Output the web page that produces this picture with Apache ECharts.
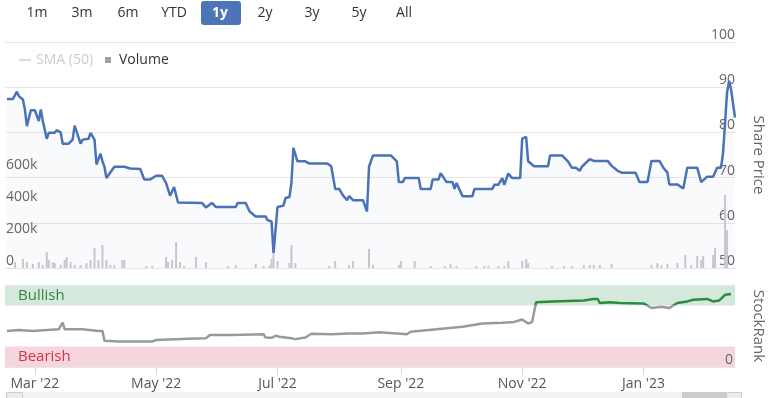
<!DOCTYPE html>
<html>
<head>
<meta charset="utf-8">
<script src="https://cdn.jsdelivr.net/npm/echarts@6/dist/echarts.min.js"></script>
<style>
  html, body { margin: 0; padding: 0; background: #fff; }
  #chart { width: 774px; height: 398px; }
</style>
</head>
<body>
<div id="chart"></div>
<script>
// 股价 (拐点)
var priceDates = ['2022-02-15','2022-02-18','2022-02-20','2022-02-21','2022-02-23','2022-02-24','2022-02-25','2022-02-27','2022-03-01','2022-03-03','2022-03-04','2022-03-05','2022-03-07','2022-03-08','2022-03-11','2022-03-12','2022-03-14','2022-03-15','2022-03-18','2022-03-20','2022-03-21','2022-03-22','2022-03-24','2022-03-25','2022-03-28','2022-03-29','2022-03-31','2022-04-01','2022-04-03','2022-04-04','2022-04-05','2022-04-06','2022-04-08','2022-04-10','2022-04-15','2022-04-18','2022-04-23','2022-04-25','2022-04-28','2022-05-01','2022-05-04','2022-05-06','2022-05-07','2022-05-08','2022-05-10','2022-05-12','2022-05-13','2022-05-24','2022-05-26','2022-05-27','2022-05-29','2022-05-31','2022-06-10','2022-06-11','2022-06-15','2022-06-17','2022-06-18','2022-06-20','2022-06-25','2022-06-26','2022-06-28','2022-06-29','2022-07-01','2022-07-02','2022-07-04','2022-07-05','2022-07-07','2022-07-08','2022-07-09','2022-07-11','2022-07-15','2022-07-17','2022-07-26','2022-07-28','2022-07-30','2022-08-01','2022-08-03','2022-08-05','2022-08-06','2022-08-08','2022-08-13','2022-08-15','2022-08-16','2022-08-18','2022-08-27','2022-08-30','2022-08-31','2022-09-02','2022-09-03','2022-09-10','2022-09-11','2022-09-16','2022-09-17','2022-09-20','2022-09-21','2022-09-22','2022-09-24','2022-09-27','2022-09-28','2022-09-29','2022-10-02','2022-10-07','2022-10-08','2022-10-17','2022-10-18','2022-10-20','2022-10-22','2022-10-23','2022-10-25','2022-10-27','2022-10-31','2022-11-01','2022-11-03','2022-11-04','2022-11-05','2022-11-07','2022-11-14','2022-11-15','2022-11-21','2022-11-24','2022-11-26','2022-11-28','2022-11-30','2022-12-01','2022-12-05','2022-12-07','2022-12-14','2022-12-16','2022-12-17','2022-12-19','2022-12-21','2022-12-28','2022-12-30','2023-01-03','2023-01-05','2023-01-09','2023-01-11','2023-01-13','2023-01-14','2023-01-18','2023-01-21','2023-01-23','2023-01-28','2023-01-30','2023-01-31','2023-02-02','2023-02-05','2023-02-07','2023-02-09','2023-02-10','2023-02-12','2023-02-13','2023-02-14','2023-02-16'];
var priceValues = [87.4,87.4,89.0,88.0,87.3,85.1,81.4,84.9,84.9,82.5,85.1,82.5,78.6,79.9,79.9,80.5,80.0,77.5,77.5,78.4,81.5,81.4,77.5,78.4,78.6,79.9,78.4,72.9,75.3,73.6,72.4,69.9,71.2,72.4,72.4,72.0,71.9,69.6,69.6,70.4,70.4,68.8,68.8,66.0,67.9,64.5,64.4,64.4,63.4,63.4,64.4,63.5,63.5,64.4,64.4,62.5,62.3,61.4,61.4,60.6,60.3,53.3,63.5,63.8,63.8,65.5,65.7,68.8,76.6,73.6,73.6,73.1,73.1,72.5,67.5,67.5,66.0,65.0,65.9,65.0,65.0,62.5,72.4,74.9,74.9,73.6,69.0,69.0,69.9,69.9,67.5,67.5,69.6,69.6,71.0,71.0,69.0,69.0,67.5,68.8,65.9,65.9,67.5,67.5,68.4,68.4,69.9,68.4,70.9,69.9,69.9,78.6,79.0,73.6,73.4,72.5,72.5,74.9,74.9,73.6,72.2,72.2,71.5,72.4,74.1,73.7,73.7,72.6,72.4,71.5,71.1,71.1,69.0,69.0,73.7,73.7,72.2,71.1,68.5,68.5,67.6,72.2,72.2,69.0,69.0,70.2,70.2,72.2,72.2,75.5,88.8,91.4,89.6,83.3];

// 成交量
var volumeDates = ['2022-02-19','2022-02-23','2022-02-25','2022-02-28','2022-03-03','2022-03-05','2022-03-07','2022-03-08','2022-03-10','2022-03-11','2022-03-14','2022-03-16','2022-03-17','2022-03-19','2022-03-21','2022-03-24','2022-03-27','2022-03-29','2022-03-31','2022-04-02','2022-04-04','2022-04-06','2022-04-08','2022-04-10','2022-04-14','2022-04-15','2022-04-26','2022-04-29','2022-05-06','2022-05-07','2022-05-09','2022-05-11','2022-05-13','2022-05-15','2022-05-21','2022-05-26','2022-06-06','2022-06-10','2022-06-20','2022-06-24','2022-06-27','2022-06-28','2022-06-29','2022-07-01','2022-07-07','2022-07-08','2022-07-10','2022-07-27','2022-07-30','2022-08-06','2022-08-08','2022-08-16','2022-08-18','2022-08-31','2022-09-01','2022-09-08','2022-09-16','2022-09-23','2022-09-26','2022-09-29','2022-10-09','2022-10-13','2022-10-15','2022-10-20','2022-10-23','2022-10-25','2022-11-01','2022-11-03','2022-11-04','2022-11-16','2022-11-22','2022-11-26','2022-12-02','2022-12-05','2022-12-07','2022-12-10','2022-12-16','2023-01-05','2023-01-08','2023-01-10','2023-01-13','2023-01-18','2023-01-22','2023-01-25','2023-01-28','2023-01-30','2023-01-31','2023-02-05','2023-02-06','2023-02-11','2023-02-12'];
var volumeValues = [37000,56000,37000,25000,37000,19000,100000,50000,37000,31000,19000,50000,69000,37000,19000,19000,31000,50000,125000,50000,144000,50000,19000,19000,50000,50000,12000,12000,69000,37000,50000,162000,37000,12000,69000,37000,12000,19000,25000,12000,19000,56000,87000,44000,31000,144000,31000,12000,44000,19000,44000,119000,19000,19000,44000,44000,12000,12000,25000,12000,12000,12000,12000,12000,12000,44000,44000,56000,31000,12000,12000,12000,19000,19000,19000,19000,25000,19000,31000,19000,25000,31000,81000,19000,75000,50000,75000,81000,125000,456000,237000];

// StockRank
var rankDates = ['2022-02-15','2022-02-21','2022-02-28','2022-03-07','2022-03-13','2022-03-15','2022-03-16','2022-03-25','2022-04-02','2022-04-04','2022-04-05','2022-04-12','2022-04-29','2022-05-01','2022-05-17','2022-05-26','2022-05-28','2022-06-08','2022-06-24','2022-06-25','2022-06-28','2022-06-30','2022-07-02','2022-07-08','2022-07-10','2022-07-15','2022-07-18','2022-07-28','2022-08-06','2022-08-13','2022-08-21','2022-08-30','2022-09-04','2022-09-06','2022-09-15','2022-09-23','2022-10-02','2022-10-12','2022-10-22','2022-10-28','2022-11-01','2022-11-04','2022-11-06','2022-11-08','2022-11-16','2022-11-24','2022-12-02','2022-12-07','2022-12-09','2022-12-10','2022-12-15','2022-12-20','2023-01-01','2023-01-03','2023-01-05','2023-01-10','2023-01-14','2023-01-18','2023-01-23','2023-01-26','2023-02-02','2023-02-05','2023-02-08','2023-02-09','2023-02-11','2023-02-14'];
var rankValues = [44,45,44,45,46,54,46,46,44,44,32,31,31,33,34.5,35,39,39,40,36,35.6,38,37,35,34,36,40.5,40,41,41,42.5,41,40,43,45,47,49,53,54,55,58,53,55,79,80,80.5,81,83,83,78,79,78,77.5,75,72,73.5,72,78,80,82,83,80,81,82,88,89];

// 坐标轴刻度
var xTickDates = ['2022-03-01','2022-05-01','2022-07-01','2022-09-01','2022-11-01','2023-01-01'];
var xTickLabels = ["Mar '22","May '22","Jul '22","Sep '22","Nov '22","Jan '23"];
var volumeTickLabels = ['0','200k','400k','600k'];
var rangeButtons = ['1m','3m','6m','YTD','1y','2y','3y','5y','All'];

var FONT = '"Open Sans", "Noto Sans", sans-serif';

function ts(d) {
    return Date.parse(d + 'T00:00:00Z');
}
function zip(dates, values) {
    return dates.map(function (d, i) { return [ts(d), values[i]]; });
}

var chart = echarts.init(document.getElementById('chart'));

// 顶部按钮
var buttonX = [37, 82, 128, 174, 220, 265, 312, 359, 404];
var buttons = [];
rangeButtons.forEach(function (name, i) {
    var active = name === '1y';
    if (active) {
        buttons.push({
            type: 'rect', shape: { x: buttonX[i] - 19, y: 1, width: 40, height: 24, r: 3 },
            style: { fill: '#4d74b7' }
        });
    }
    buttons.push({
        type: 'text', x: buttonX[i], y: 13,
        style: {
            text: name, fill: active ? '#fff' : '#333', font: (active ? 'bold ' : '') + '14px ' + FONT,
            textAlign: 'center', textVerticalAlign: 'middle'
        }
    });
});
// 底部滚动条
buttons.push(
    { type: 'rect', shape: { x: 6, y: 392, width: 736, height: 8 }, style: { fill: '#f2f2f2' } },
    { type: 'rect', shape: { x: 6.5, y: 392.5, width: 16, height: 8 }, style: { fill: '#ebebeb', stroke: '#ccc' } },
    { type: 'rect', shape: { x: 682, y: 392, width: 44, height: 8 }, style: { fill: '#cccccc' } },
    { type: 'rect', shape: { x: 726.5, y: 392.5, width: 15, height: 8 }, style: { fill: '#ebebeb', stroke: '#ccc' } }
);

var xMin = ts('2022-02-14');
var xMax = ts('2023-02-16');
var xTicks = xTickDates.map(ts);

// StockRank 面板: 75 以上为绿色
var rankTop = 285, rankHeight = 82, bullishLevel = 75;
var cut = 1 - bullishLevel / 100;
var rankColor = {
    type: 'linear', x: 0, y: rankTop, x2: 0, y2: rankTop + rankHeight, global: true,
    colorStops: [
        { offset: 0, color: '#2b8c3b' }, { offset: cut, color: '#2b8c3b' },
        { offset: cut, color: '#999999' }, { offset: 1, color: '#999999' }
    ]
};

var option = {
    animation: false,
    textStyle: { fontFamily: FONT },
    graphic: buttons,
    legend: {
        left: 14, top: 48,
        itemWidth: 12, itemHeight: 6, itemGap: 12,
        textStyle: { fontSize: 14, color: '#333' },
        inactiveColor: '#cccccc',
        symbolKeepAspect: true,
        data: [
            { name: 'SMA (50)', icon: 'path://M0,0H12V1.4H0Z' },
            { name: 'Volume', icon: 'path://M0,0H10V10H0Z', itemStyle: { color: '#a0a0a0' } }
        ],
        selected: { 'SMA (50)': false }
    },
    grid: [
        { left: 5, right: 32, top: 42, height: 226 },
        { left: 5, right: 32, top: rankTop, height: rankHeight }
    ],
    xAxis: [
        { type: 'value', gridIndex: 0, min: xMin, max: xMax, show: false },
        {
            type: 'value', gridIndex: 1, min: xMin, max: xMax,
            axisLine: { lineStyle: { color: '#e6e6e6' } },
            axisTick: { show: true, length: 8, customValues: xTicks, lineStyle: { color: '#d8d8d8' } },
            axisLabel: {
                customValues: xTicks, color: '#555', fontSize: 14, margin: 10,
                formatter: function (v) { return xTickLabels[xTicks.indexOf(v)]; }
            },
            splitLine: { show: false }
        }
    ],
    yAxis: [
        {
            type: 'value', gridIndex: 0, position: 'right', min: 50, max: 100, interval: 10,
            name: 'Share Price', nameLocation: 'middle', nameRotate: -90, nameGap: 16,
            nameTextStyle: { color: '#666', fontSize: 15 },
            axisLine: { show: false }, axisTick: { show: false },
            axisLabel: { inside: true, margin: 0, color: '#666', fontSize: 14, verticalAlign: 'bottom' },
            splitLine: { lineStyle: { color: '#e6e6e6' } }
        },
        {
            type: 'value', gridIndex: 0, position: 'left', min: 0, max: 1412500, interval: 200000,
            axisLine: { show: false }, axisTick: { show: false }, splitLine: { show: false },
            axisLabel: {
                inside: true, margin: 1, color: '#666', fontSize: 14, verticalAlign: 'bottom', showMaxLabel: false,
                formatter: function (v) { return volumeTickLabels[v / 200000] || ''; }
            }
        },
        {
            type: 'value', gridIndex: 1, position: 'right', min: 0, max: 100, interval: 100, z: 5,
            name: 'StockRank', nameLocation: 'middle', nameRotate: -90, nameGap: 16,
            nameTextStyle: { color: '#666', fontSize: 15 },
            axisLine: { show: false }, axisTick: { show: false },
            axisLabel: {
                inside: true, margin: 2, color: '#666', fontSize: 14, verticalAlign: 'bottom',
                formatter: function (v) { return v === 0 ? '0' : ''; }
            },
            splitLine: { lineStyle: { color: '#e6e6e6' } }
        }
    ],
    series: [
        {
            name: 'Share Price', type: 'line', xAxisIndex: 0, yAxisIndex: 0, z: 3,
            data: zip(priceDates, priceValues),
            symbol: 'none', color: '#4a72b8',
            lineStyle: { width: 2.5 },
            areaStyle: { color: 'rgba(74,114,184,0.05)', origin: 'start' }
        },
        {
            name: 'Volume', type: 'bar', xAxisIndex: 0, yAxisIndex: 1, z: 2,
            data: zip(volumeDates, volumeValues),
            barWidth: 2, itemStyle: { color: '#cbcbd0' }
        },
        {
            name: 'SMA (50)', type: 'line', xAxisIndex: 0, yAxisIndex: 0,
            data: [], symbol: 'none', color: '#888'
        },
        {
            name: 'StockRank', type: 'line', xAxisIndex: 1, yAxisIndex: 2,
            data: zip(rankDates, rankValues),
            symbol: 'none', lineStyle: { width: 2.5, color: rankColor },
            markArea: {
                silent: true,
                data: [
                    [{ yAxis: bullishLevel, name: 'Bullish', itemStyle: { color: '#d5e8dc' },
                       label: { color: '#3c7f46' } }, { yAxis: 100 }],
                    [{ yAxis: 0, name: 'Bearish', itemStyle: { color: '#f5d6dc' },
                       label: { color: '#d7304f' } }, { yAxis: 25 }]
                ],
                label: { position: 'insideLeft', offset: [8, 0], fontSize: 15 }
            }
        }
    ]
};

chart.setOption(option);
</script>
</body>
</html>
